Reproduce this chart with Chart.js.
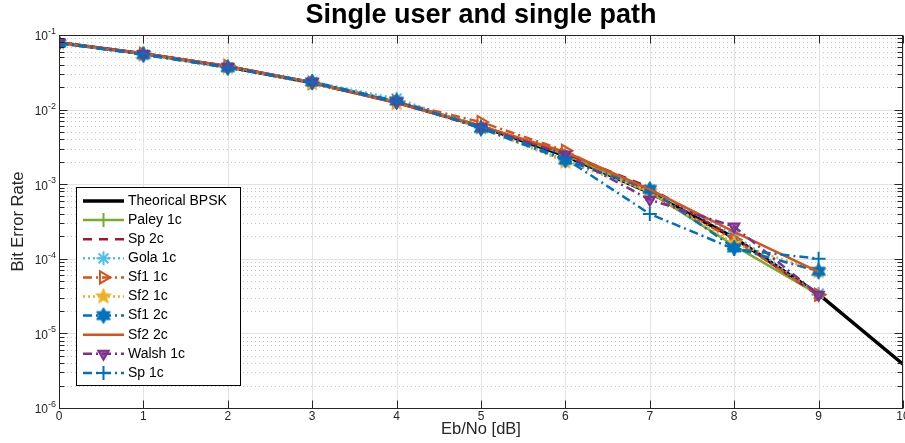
<!DOCTYPE html>
<html>
<head>
<meta charset="utf-8">
<script src="https://cdn.jsdelivr.net/npm/chart.js@4.4.1/dist/chart.umd.min.js"></script>
<style>
  html, body { margin: 0; padding: 0; background: #ffffff; }
  #wrap { width: 905px; height: 443px; }
</style>
</head>
<body>
<div id="wrap"><canvas id="c" width="905" height="443"></canvas></div>
<script>
// Eb/No grid (dB)
const ebnoTheory = [0, 1, 2, 3, 4, 5, 6, 7, 8, 9, 10];
const ebnoSim    = [0, 1, 2, 3, 4, 5, 6, 7, 8, 9];

// Bit error rates
const berTheory = [0.0786, 0.0563, 0.0375, 0.0229, 0.0125, 0.00595, 0.00239, 0.000773, 0.000191, 0.0000336, 0.00000387];
const berPaley1c = [0.0785, 0.0560, 0.0378, 0.0232, 0.0126, 0.0061, 0.0025, 0.00078, 0.000150, 0.000033];
const berSp2c    = [0.0790, 0.0565, 0.0380, 0.0230, 0.0124, 0.0060, 0.0026, 0.00090, 0.000190, 0.000032];
const berGola1c  = [0.0780, 0.0550, 0.0370, 0.0235, 0.0140, 0.0058, 0.0021, 0.00085, 0.000210, 0.000034];
const berSf11c   = [0.0790, 0.0560, 0.0385, 0.0228, 0.0127, 0.0068, 0.0028, 0.00075, 0.000180, 0.000033];
const berSf21c   = [0.0785, 0.0555, 0.0370, 0.0225, 0.0122, 0.0057, 0.0020, 0.00080, 0.000160, 0.000068];
const berSf12c   = [0.0780, 0.0545, 0.0365, 0.0235, 0.0130, 0.0056, 0.0021, 0.00085, 0.000140, 0.000068];
const berSf22c   = [0.0790, 0.0565, 0.0380, 0.0230, 0.0122, 0.0060, 0.0027, 0.00085, 0.000230, 0.000067];
const berWalsh1c = [0.0785, 0.0555, 0.0375, 0.0230, 0.0125, 0.0058, 0.0025, 0.00062, 0.000270, 0.000033];
const berSp1c    = [0.0780, 0.0550, 0.0365, 0.0230, 0.0128, 0.0058, 0.0022, 0.00040, 0.000135, 0.000100];

// Axis ticks
const xTickValues = [0, 1, 2, 3, 4, 5, 6, 7, 8, 9, 10];
const yDecadeExponents = [-6, -5, -4, -3, -2, -1];

const titleText = 'Single user and single path';
const xTitle = 'Eb/No [dB]';
const yTitle = 'Bit Error Rate';

const FONT = '"Liberation Sans", Arial, Helvetica, sans-serif';
const AXIS_COLOR = '#262626';

// ---- custom marker images ----
function starCanvas(points, outerR, innerR, fill, stroke, rot) {
  const size = Math.ceil(outerR * 2 + 4);
  const cv = document.createElement('canvas');
  cv.width = size; cv.height = size;
  const g = cv.getContext('2d');
  const c = size / 2;
  g.beginPath();
  for (let i = 0; i < points * 2; i++) {
    const r = i % 2 === 0 ? outerR : innerR;
    const a = rot + i * Math.PI / points;
    const px = c + r * Math.sin(a);
    const py = c - r * Math.cos(a);
    if (i === 0) g.moveTo(px, py); else g.lineTo(px, py);
  }
  g.closePath();
  g.fillStyle = fill;
  g.fill();
  g.lineWidth = 1;
  g.strokeStyle = stroke;
  g.stroke();
  return cv;
}
const pentagram = starCanvas(5, 8, 3.4, '#EDB120', '#EDB120', 0);
const hexagram  = starCanvas(6, 8, 4.6, '#0072BD', '#0072BD', 0);

function toXY(xs, ys) { return xs.map((x, i) => ({ x: x, y: ys[i] })); }

const seriesDefs = [
  { label: 'Theorical BPSK', xs: ebnoTheory, ys: berTheory, color: '#000000', width: 3.5, dash: [], point: false },
  { label: 'Paley 1c', xs: ebnoSim, ys: berPaley1c, color: '#77AC30', width: 2.5, dash: [], point: 'cross', radius: 7, bw: 2 },
  { label: 'Sp 2c', xs: ebnoSim, ys: berSp2c, color: '#A2142F', width: 2.5, dash: [9, 7], point: false },
  { label: 'Gola 1c', xs: ebnoSim, ys: berGola1c, color: '#4DBEEE', width: 2.5, dash: [2, 3], point: 'star', radius: 7, bw: 2 },
  { label: 'Sf1 1c', xs: ebnoSim, ys: berSf11c, color: '#D95319', width: 2.5, dash: [9, 4, 2, 4], point: 'triangle', rot: 90, radius: 7, bw: 2, fill: 'rgba(255,255,255,0)' },
  { label: 'Sf2 1c', xs: ebnoSim, ys: berSf21c, color: '#EDB120', width: 2.5, dash: [2, 3], point: pentagram },
  { label: 'Sf1 2c', xs: ebnoSim, ys: berSf12c, color: '#0072BD', width: 2.5, dash: [9, 4, 2, 4], point: hexagram },
  { label: 'Sf2 2c', xs: ebnoSim, ys: berSf22c, color: '#D95319', width: 2.5, dash: [], point: false },
  { label: 'Walsh 1c', xs: ebnoSim, ys: berWalsh1c, color: '#7E2F8E', width: 2.5, dash: [9, 4, 2, 4], point: 'triangle', rot: 180, radius: 6, bw: 2, fill: 'rgba(126,47,142,0.75)' },
  { label: 'Sp 1c', xs: ebnoSim, ys: berSp1c, color: '#0072BD', width: 2.5, dash: [9, 4, 2, 4], point: 'cross', radius: 7, bw: 2 }
];

const datasets = seriesDefs.map((s, i) => ({
  label: s.label,
  data: toXY(s.xs, s.ys),
  borderColor: s.color,
  backgroundColor: s.fill || s.color,
  borderWidth: s.width,
  borderDash: s.dash,
  tension: 0,
  fill: false,
  order: seriesDefs.length - i,
  pointStyle: s.point || 'circle',
  pointRadius: s.point ? (s.radius || 7) : 0,
  pointHoverRadius: s.point ? (s.radius || 7) : 0,
  pointRotation: s.rot || 0,
  pointBorderWidth: s.bw || 1,
  pointBorderColor: s.color,
  pointBackgroundColor: s.fill || s.color
}));

// Grid lines behind the data, box and ticks on top
const gridPlugin = {
  id: 'matlabGrid',
  beforeDatasetsDraw(chart) {
    const { ctx, chartArea: a, scales: { x, y } } = chart;
    ctx.save();
    ctx.lineWidth = 1;
    // minor horizontal (dotted)
    ctx.strokeStyle = '#c8c8c8';
    ctx.setLineDash([1, 3]);
    yDecadeExponents.forEach(e => {
      if (e === -1) return;
      for (let m = 2; m <= 9; m++) {
        const py = Math.round(y.getPixelForValue(m * Math.pow(10, e))) + 0.5;
        ctx.beginPath(); ctx.moveTo(a.left, py); ctx.lineTo(a.right, py); ctx.stroke();
      }
    });
    ctx.setLineDash([]);
    // major grid
    ctx.strokeStyle = '#e3e3e3';
    yDecadeExponents.forEach(e => {
      const py = Math.round(y.getPixelForValue(Math.pow(10, e))) + 0.5;
      ctx.beginPath(); ctx.moveTo(a.left, py); ctx.lineTo(a.right, py); ctx.stroke();
    });
    xTickValues.forEach(v => {
      const px = Math.round(x.getPixelForValue(v)) + 0.5;
      ctx.beginPath(); ctx.moveTo(px, a.top); ctx.lineTo(px, a.bottom); ctx.stroke();
    });
    ctx.restore();
  },
  afterDatasetsDraw(chart) {
    const { ctx, chartArea: a, scales: { x, y } } = chart;
    ctx.save();
    ctx.strokeStyle = AXIS_COLOR;
    ctx.lineWidth = 1;
    const L = Math.round(a.left) + 0.5, R = Math.round(a.right) - 0.5;
    const T = Math.round(a.top) + 0.5, B = Math.round(a.bottom) + 0.5;
    ctx.strokeRect(L, T, R - L, B - T);
    // x ticks (inward, top and bottom)
    xTickValues.forEach(v => {
      const px = Math.round(x.getPixelForValue(v)) + 0.5;
      ctx.beginPath(); ctx.moveTo(px, B); ctx.lineTo(px, B - 8); ctx.stroke();
      ctx.beginPath(); ctx.moveTo(px, T); ctx.lineTo(px, T + 8); ctx.stroke();
    });
    // y ticks (inward, left and right)
    yDecadeExponents.forEach(e => {
      const py = Math.round(y.getPixelForValue(Math.pow(10, e))) + 0.5;
      ctx.beginPath(); ctx.moveTo(L, py); ctx.lineTo(L + 8, py); ctx.stroke();
      ctx.beginPath(); ctx.moveTo(R, py); ctx.lineTo(R - 8, py); ctx.stroke();
      if (e === -1) return;
      for (let m = 2; m <= 9; m++) {
        const pm = Math.round(y.getPixelForValue(m * Math.pow(10, e))) + 0.5;
        ctx.beginPath(); ctx.moveTo(L, pm); ctx.lineTo(L + 5, pm); ctx.stroke();
        ctx.beginPath(); ctx.moveTo(R, pm); ctx.lineTo(R - 5, pm); ctx.stroke();
      }
    });
    ctx.restore();
  },
  afterDraw(chart) {
    const { ctx, chartArea: a, scales: { x, y } } = chart;
    ctx.save();
    ctx.fillStyle = AXIS_COLOR;
    // x tick labels
    ctx.font = '12px ' + FONT;
    ctx.textAlign = 'center';
    ctx.textBaseline = 'top';
    xTickValues.forEach(v => {
      ctx.fillText(String(v), x.getPixelForValue(v), a.bottom + 3);
    });
    // y tick labels: 10^e
    yDecadeExponents.forEach(e => {
      const py = y.getPixelForValue(Math.pow(10, e));
      ctx.font = '9px ' + FONT;
      const sup = String(e);
      const supW = ctx.measureText(sup).width;
      const right = a.left - 3;
      ctx.textAlign = 'right';
      ctx.textBaseline = 'alphabetic';
      ctx.fillText(sup, right, py - 1);
      ctx.font = '12px ' + FONT;
      ctx.textBaseline = 'middle';
      ctx.fillText('10', right - supW, py + 2);
    });
    // axis titles
    ctx.fillStyle = AXIS_COLOR;
    ctx.font = '16.5px ' + FONT;
    ctx.textAlign = 'center';
    ctx.textBaseline = 'middle';
    ctx.fillText(xTitle, (a.left + a.right) / 2, a.bottom + 21);
    ctx.save();
    ctx.translate(18, (a.top + a.bottom) / 2);
    ctx.rotate(-Math.PI / 2);
    ctx.fillText(yTitle, 0, 0);
    ctx.restore();
    // title
    ctx.fillStyle = '#000000';
    ctx.font = 'bold 27px ' + FONT;
    ctx.fillText(titleText, (a.left + a.right) / 2, 16);
    ctx.restore();
  }
};

// Legend box with line and marker samples
const legendPlugin = {
  id: 'matlabLegend',
  afterDraw(chart) {
    const { ctx } = chart;
    const bx = 76.5, by = 187.5, bw = 164, bh = 198;
    ctx.save();
    ctx.fillStyle = '#ffffff';
    ctx.fillRect(bx, by, bw, bh);
    ctx.strokeStyle = '#000000';
    ctx.lineWidth = 1;
    ctx.strokeRect(bx, by, bw, bh);
    const rowH = 19.1;
    chart.data.datasets.forEach((ds, i) => {
      const cy = by + 13.5 + i * rowH;
      const x0 = 83, x1 = 124, xm = (x0 + x1) / 2;
      ctx.save();
      ctx.strokeStyle = ds.borderColor;
      ctx.lineWidth = ds.borderWidth;
      ctx.setLineDash(ds.borderDash || []);
      ctx.beginPath(); ctx.moveTo(x0, cy); ctx.lineTo(x1, cy); ctx.stroke();
      ctx.restore();
      if (ds.pointRadius > 0) {
        ctx.save();
        ctx.strokeStyle = ds.pointBorderColor;
        ctx.fillStyle = ds.pointBackgroundColor;
        ctx.lineWidth = ds.pointBorderWidth;
        Chart.helpers.drawPoint(ctx, {
          pointStyle: ds.pointStyle,
          radius: ds.pointRadius,
          rotation: ds.pointRotation,
          borderWidth: ds.pointBorderWidth
        }, xm, cy);
        ctx.restore();
      }
      ctx.fillStyle = '#000000';
      ctx.font = '14px ' + FONT;
      ctx.textAlign = 'left';
      ctx.textBaseline = 'middle';
      ctx.fillText(ds.label, 128, cy);
    });
    ctx.restore();
  }
};

new Chart(document.getElementById('c'), {
  type: 'line',
  data: { datasets: datasets },
  options: {
    responsive: false,
    animation: false,
    devicePixelRatio: 1,
    layout: { autoPadding: false, padding: { left: 59, right: 2, top: 35, bottom: 35 } },
    plugins: { legend: { display: false }, tooltip: { enabled: false }, title: { display: false } },
    scales: {
      x: { type: 'linear', min: 0, max: 10, display: false },
      y: { type: 'logarithmic', min: 1e-6, max: 1e-1, display: false }
    }
  },
  plugins: [gridPlugin, legendPlugin]
});
</script>
</body>
</html>
